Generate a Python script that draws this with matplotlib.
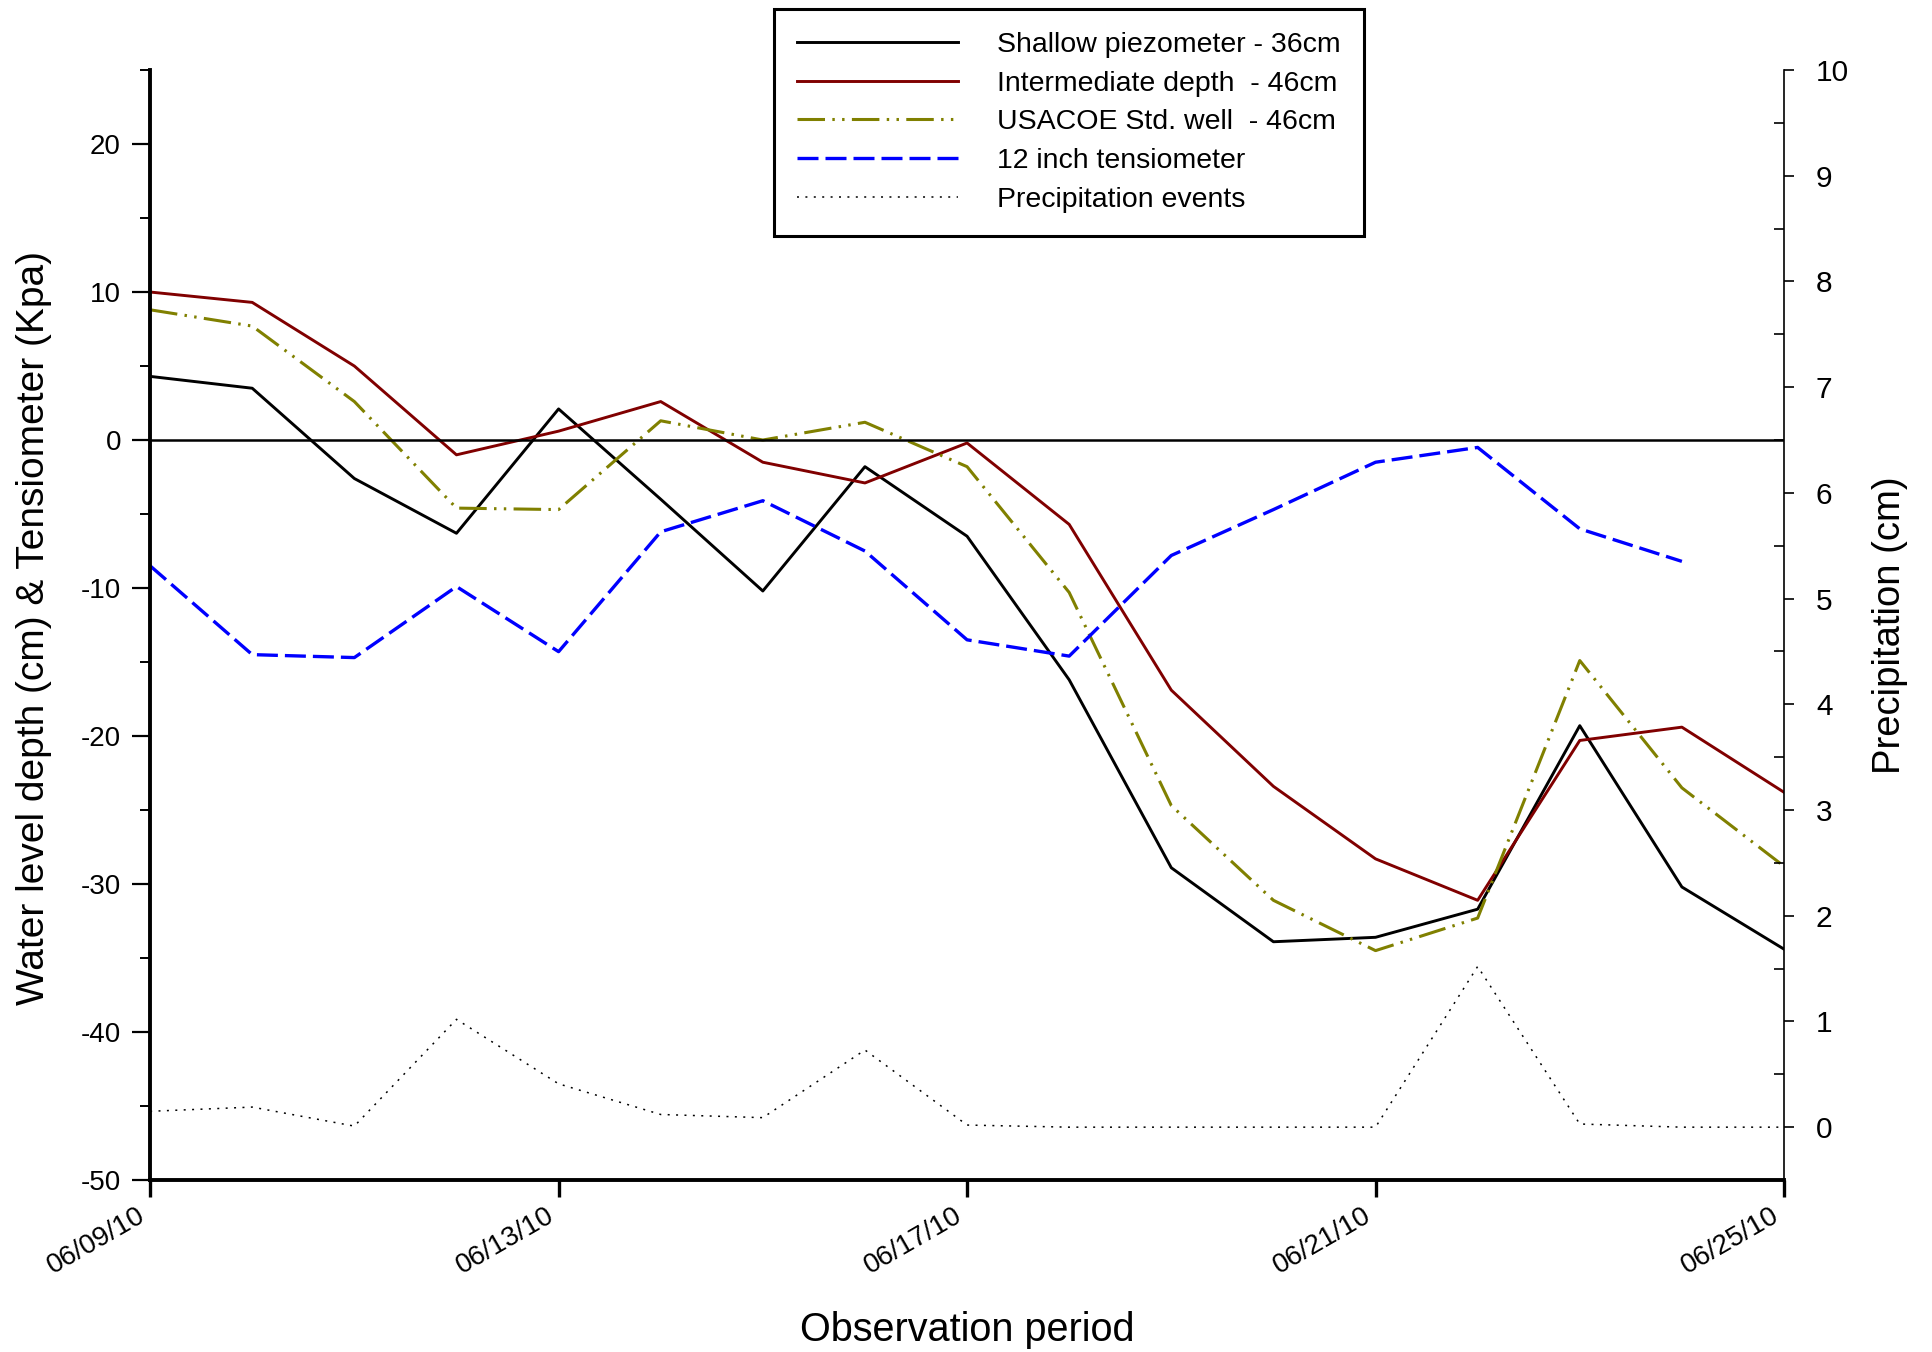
import numpy as np
import pandas as pd
import matplotlib
matplotlib.use("Agg")
import matplotlib.pyplot as plt
import matplotlib.dates as mdates

plt.rcParams['font.family'] = ['Liberation Sans', 'DejaVu Sans']
plt.rcParams['axes.unicode_minus'] = False

days = ["2010-06-09", "2010-06-10", "2010-06-11", "2010-06-12", "2010-06-13",
        "2010-06-14", "2010-06-15", "2010-06-16", "2010-06-17", "2010-06-18",
        "2010-06-19", "2010-06-20", "2010-06-21", "2010-06-22", "2010-06-23",
        "2010-06-24", "2010-06-25"]

shallow = [4.3, 3.5, -2.6, -6.3, 2.1, -4.0, -10.2, -1.8, -6.5, -16.2,
           -28.9, -33.9, -33.6, -31.7, -19.3, -30.2, -34.4]
intermediate = [10.0, 9.3, 5.0, -1.0, 0.6, 2.6, -1.5, -2.9, -0.2, -5.7,
                -16.9, -23.4, -28.3, -31.1, -20.3, -19.4, -23.8]
usacoe = [8.8, 7.7, 2.6, -4.6, -4.7, 1.3, 0.0, 1.2, -1.8, -10.3,
          -24.7, -31.1, -34.5, -32.3, -14.9, -23.5, -28.8]
tensiometer = [-8.5, -14.5, -14.7, -9.9, -14.3, -6.2, -4.1, -7.5, -13.5, -14.6,
               -7.8, -4.7, -1.5, -0.5, -6.0, -8.2]
precip = [0.15, 0.19, 0.01, 1.02, 0.41, 0.12, 0.09, 0.73, 0.02, 0.0,
          0.0, 0.0, 0.0, 1.52, 0.03, 0.0, 0.0]

dates = pd.to_datetime(days)

fig = plt.figure(figsize=(19.32, 13.52), dpi=100)
ax = fig.add_axes([0.0777, 0.1272, 0.8457, 0.8210])
ax2 = ax.twinx()

l1, = ax.plot(dates, shallow, color="black", lw=2.1)
l2, = ax.plot(dates, intermediate, color="#800000", lw=2.1)
l3, = ax.plot(dates, usacoe, color="#808000", lw=2.2,
              dashes=(9, 2.4, 0.8, 2.4, 0.8, 2.4))
l4, = ax.plot(dates[:len(tensiometer)], tensiometer, color="#0000FF", lw=2.4,
              dashes=(6.3, 2.1))
l5, = ax2.plot(dates, precip, color="black", lw=1.1, dashes=(1.3, 4.2))
ax.axhline(0, color="black", lw=1.8)

ax.set_xlim(dates[0], dates[-1])
ax.set_ylim(-50, 25)
ax2.set_ylim(-0.5, 10)

ax.set_yticks(np.arange(-50, 21, 10))
ax.set_yticks(np.arange(-45, 26, 5), minor=True)
ax2.set_yticks(np.arange(0, 11, 1))
ax2.set_yticks(np.arange(0.5, 10, 0.5), minor=True)
ax.set_xticks(dates[::4])
ax.xaxis.set_major_formatter(mdates.DateFormatter("%m/%d/%y"))

for a in (ax, ax2):
    a.spines["top"].set_visible(False)
ax.spines["right"].set_visible(False)
ax2.spines["left"].set_visible(False)
ax2.spines["bottom"].set_visible(False)
ax.spines["left"].set_linewidth(2.8)
ax.spines["bottom"].set_linewidth(2.8)
ax2.spines["right"].set_linewidth(1.2)

ax.tick_params(axis="y", which="major", direction="out", length=13, width=1.6,
               labelsize=20, pad=8)
ax.tick_params(axis="y", which="minor", direction="out", length=7, width=1.4)
ax.tick_params(axis="x", which="major", direction="out", length=12, width=2.4,
               labelsize=20, pad=4)
ax2.tick_params(axis="y", which="major", direction="out", length=7, width=1.2,
                labelsize=21.5, pad=16)
ax2.tick_params(axis="y", which="minor", direction="in", length=7, width=1.2)
for lab in ax.get_xticklabels():
    lab.set_rotation(30)
    lab.set_ha("right")
    lab.set_va("top")

ax.set_xlabel("Observation period", fontsize=28.5)
ax.xaxis.set_label_coords(0.5, -0.118)
ax.set_ylabel("Water level depth (cm) & Tensiometer (Kpa)", fontsize=28)
ax.yaxis.set_label_coords(-0.060, 0.497)
ax2.set_ylabel("Precipitation (cm)", fontsize=27.5, rotation=90)
ax2.yaxis.set_label_coords(1.054, 0.5)

leg = ax2.legend([l1, l2, l3, l4, l5],
                 ["Shallow piezometer - 36cm", "Intermediate depth  - 46cm",
                  "USACOE Std. well  - 46cm", "12 inch tensiometer",
                  "Precipitation events"],
                 loc="upper left", bbox_to_anchor=(0.4006, 0.9933),
                 bbox_transform=fig.transFigure, fontsize=20.5,
                 handlelength=5.65, handletextpad=1.4, labelspacing=0.45,
                 borderpad=0.8, borderaxespad=0, fancybox=False,
                 framealpha=1, edgecolor="black")
leg.get_frame().set_linewidth(2.2)

fig.savefig("out.png", dpi=100)
